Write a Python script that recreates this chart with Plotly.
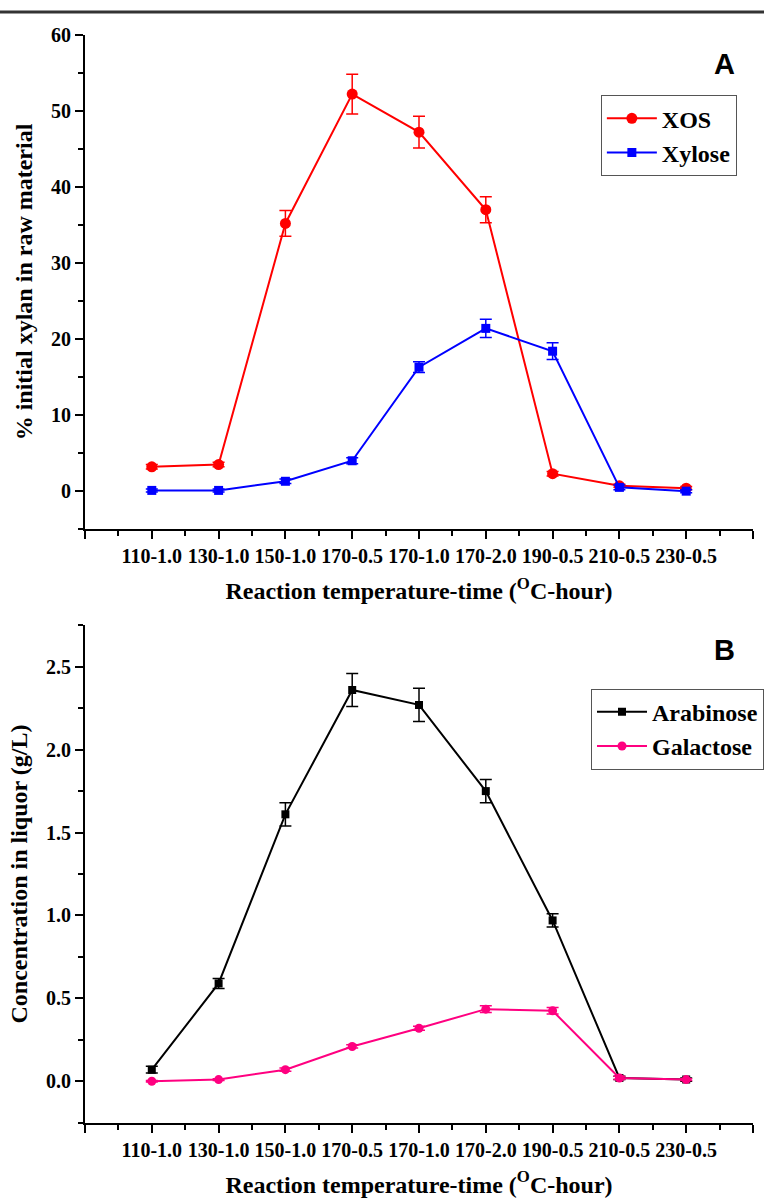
import plotly.graph_objects as go

categories = ["110-1.0", "130-1.0", "150-1.0", "170-0.5", "170-1.0", "170-2.0", "190-0.5", "210-0.5", "230-0.5"]

xos = [3.2, 3.5, 35.2, 52.2, 47.2, 37.0, 2.3, 0.7, 0.4]
xos_err = [0.3, 0.3, 1.7, 2.6, 2.1, 1.7, 0.3, 0.2, 0.2]
xylose = [0.1, 0.1, 1.3, 4.0, 16.3, 21.4, 18.4, 0.5, 0.0]
xylose_err = [0.2, 0.2, 0.3, 0.4, 0.7, 1.2, 1.1, 0.3, 0.2]

arabinose = [0.07, 0.59, 1.61, 2.36, 2.27, 1.75, 0.97, 0.02, 0.01]
arabinose_err = [0.02, 0.03, 0.07, 0.10, 0.10, 0.07, 0.04, 0.01, 0.01]
galactose = [0.00, 0.01, 0.07, 0.21, 0.32, 0.435, 0.425, 0.02, 0.01]
galactose_err = [0.005, 0.005, 0.01, 0.01, 0.012, 0.02, 0.02, 0.01, 0.005]

xpos = list(range(len(categories)))

SERIF = "Liberation Serif, Times New Roman, serif"
SANS = "Liberation Sans, Arial, sans-serif"

fig = go.Figure()

def add(y, err, name, color, symbol, size, xa, ya, legend):
    fig.add_trace(go.Scatter(
        x=xpos, y=y, name=name, mode="lines+markers",
        line=dict(color=color, width=2),
        marker=dict(color=color, symbol=symbol, size=size),
        error_y=dict(type="data", array=err, visible=True, color=color, thickness=1.5, width=6),
        xaxis=xa, yaxis=ya, legend=legend,
    ))

add(xos, xos_err, "XOS", "#ff0000", "circle", 11, "x", "y", "legend")
add(xylose, xylose_err, "Xylose", "#0000ff", "square", 9, "x", "y", "legend")
add(arabinose, arabinose_err, "Arabinose", "#000000", "square", 8, "x2", "y2", "legend2")
add(galactose, galactose_err, "Galactose", "#ff0080", "circle", 9, "x2", "y2", "legend2")

H = 1200
W = 764
def dom(top_px, bot_px):
    return [1 - bot_px / H, 1 - top_px / H]

tickvals = list(range(-1, len(categories) + 1))
ticktext = [""] + categories + [""]

TICKFONT = dict(family=SERIF, size=20, color="black", weight="bold")
TITLEFONT = dict(family=SERIF, size=24, color="black", weight="bold")

xcommon = dict(
    range=[-1, 9], tickmode="array", tickvals=tickvals, ticktext=ticktext,
    showline=True, linecolor="black", linewidth=2, showgrid=False, zeroline=False,
    ticks="outside", ticklen=8, tickwidth=2, tickcolor="black",
    tickfont=TICKFONT,
    minor=dict(tick0=-1, dtick=0.5, ticks="outside", ticklen=5, tickwidth=2, tickcolor="black"),
    title=dict(text="Reaction temperature-time (<sup>O</sup>C-hour)", font=TITLEFONT, standoff=16),
)
ycommon = dict(
    showline=True, linecolor="black", linewidth=2, showgrid=False, zeroline=False,
    ticks="outside", ticklen=8, tickwidth=2, tickcolor="black",
    tickfont=TICKFONT,
)

fig.update_layout(
    width=W, height=H,
    margin=dict(l=85, r=0, t=0, b=0),
    paper_bgcolor="white", plot_bgcolor="white",
    xaxis=dict(**xcommon, domain=[0, 1], anchor="y"),
    yaxis=dict(**ycommon, domain=dom(24, 523), anchor="x", range=[-5, 60], dtick=10, tick0=0,
               minor=dict(dtick=5, tick0=0, ticks="outside", ticklen=5, tickwidth=2, tickcolor="black"),
               title=dict(text="% initial xylan in raw material", font=TITLEFONT, standoff=12)),
    xaxis2=dict(**xcommon, domain=[0, 1], anchor="y2"),
    yaxis2=dict(**ycommon, domain=dom(620, 1122), anchor="x2", range=[-0.25, 2.75], dtick=0.5, tick0=0,
                tickformat=".1f",
                minor=dict(dtick=0.25, tick0=0, ticks="outside", ticklen=5, tickwidth=2, tickcolor="black"),
                title=dict(text="Concentration in liquor (g/L)", font=TITLEFONT, standoff=12)),
    legend=dict(x=590 / W, y=1 - 85 / H, xref="paper", yref="paper", xanchor="left", yanchor="top",
                bordercolor="#555555", borderwidth=1, bgcolor="white",
                font=dict(family=SERIF, size=24, color="black", weight="bold"),
                itemwidth=50, tracegroupgap=0),
    legend2=dict(x=579 / W, y=1 - 684 / H, xref="paper", yref="paper", xanchor="left", yanchor="top",
                 bordercolor="#555555", borderwidth=1, bgcolor="white",
                 font=dict(family=SERIF, size=24, color="black", weight="bold"),
                 itemwidth=50, tracegroupgap=0),
    showlegend=True,
)

fig.add_shape(type="line", xref="paper", yref="paper", x0=-0.2, x1=1.2, y0=1 - 1 / H, y1=1 - 1 / H,
              line=dict(color="#333333", width=3))

fig.add_annotation(text="A", xref="paper", yref="paper", x=1 - 18 / W, y=1 - 53 / H,
                   xanchor="right", yanchor="middle", showarrow=False,
                   font=dict(family=SANS, size=29, color="black", weight="bold"))
fig.add_annotation(text="B", xref="paper", yref="paper", x=1 - 18 / W, y=1 - 645 / H,
                   xanchor="right", yanchor="middle", showarrow=False,
                   font=dict(family=SANS, size=29, color="black", weight="bold"))

fig.write_html("out.html", config={"displayModeBar": False},
               post_script="document.body.style.margin='0px';")
